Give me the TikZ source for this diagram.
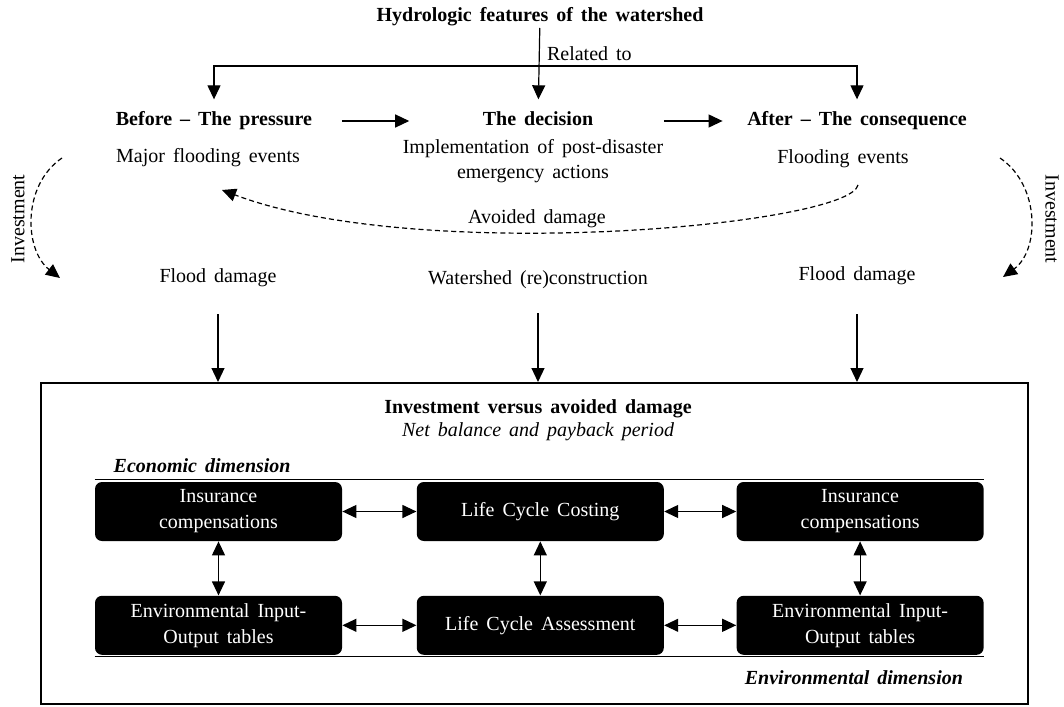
\documentclass[tikz,border=0pt]{standalone}
\usepackage{fontspec}
\setmainfont[WordSpace=1.6]{Liberation Serif}
\usetikzlibrary{arrows.meta,positioning}

\begin{document}
\begin{tikzpicture}[
    x=0.5pt, y=-0.5pt,
    font=\fontsize{10}{12.6}\selectfont,
    >={Triangle[length=7pt,width=6.5pt]},
    head/.style={font=\fontsize{10}{12.6}\selectfont\bfseries, text height=7pt, text depth=2pt, outer sep=3pt},
    txt/.style={align=center},
    dim/.style={font=\fontsize{10}{12.6}\selectfont\bfseries\itshape},
    tool/.style={rectangle, rounded corners=3.5pt, fill=black, text=white, align=center,
        minimum width=123.5pt, minimum height=29.5pt, inner sep=0pt, font=\fontsize{10}{13}\selectfont},
    flow/.style={line width=0.6pt, ->},
    twoway/.style={line width=0.6pt, <->},
    loop/.style={line width=0.6pt, dash pattern=on 2.5pt off 1.6pt, ->}
]
\useasboundingbox (0,0) rectangle (1064,706);

% upper part: before / decision / after
\node[head, outer sep=0pt, inner sep=1pt] (hydro) at (540,17) {Hydrologic features of the watershed};
\node[head] (before) at (214,121) {Before – The pressure};
\node[head] (decision) at (538,121) {The decision};
\node[head] (after) at (857,121) {After – The consequence};
\node[txt] (major) at (208,158) {Major flooding events};
\node[txt] (impl) at (533,161) {Implementation of post-disaster\\emergency actions};
\node[txt] (fev) at (843,159) {Flooding events};
\node[txt] (avoid) at (537,219) {Avoided damage};
\node[txt] (fd1) at (218,278) {Flood damage};
\node[txt] (rec) at (538,280) {Watershed (re)construction};
\node[txt] (fd2) at (857,276) {Flood damage};
\node[txt, rotate=90] (inv1) at (18,219) {Investment};
\node[txt, rotate=-90] (inv2) at (1052,219) {Investment};

\coordinate (rel) at (538,66);
\node[txt, above right=-1pt and 1pt of rel] (relto) {Related to};
\draw[flow] (hydro) -- (decision);
\draw[flow] (rel) -| (before);
\draw[flow] (rel) -| (after);
\draw[flow, shorten <=8.5pt, shorten >=30.5pt] (before) -- (decision);
\draw[flow, shorten <=29pt, shorten >=6pt] (decision) -- (after);

% investment and avoided damage loops
\coordinate (inv1s) at (62,158);
\coordinate (inv1e) at (60,278);
\coordinate (inv2s) at (1000,158);
\coordinate (inv2e) at (1003,277);
\coordinate (avs) at (858,185);
\coordinate (ave) at (222,190);
\draw[loop] (inv1s) .. controls (22,185) and (24,250) .. (inv1e);
\draw[loop] (inv2s) .. controls (1040,185) and (1040,250) .. (inv2e);
\draw[loop] (avs) .. controls (850,225) and (420,265) .. (ave);

% lower part: assessment frame
\node[draw, line width=1pt, minimum width=493.5pt, minimum height=160.5pt, inner sep=0pt] (frame) at (534.5,543.5) {};
\draw[flow, shorten <=10pt] (fd1) -- (fd1 |- frame.north);
\draw[flow, shorten <=8.5pt] (rec) -- (rec |- frame.north);
\draw[flow, shorten <=11pt] (fd2) -- (fd2 |- frame.north);

\node[head, outer sep=0pt] (ivad) at (538,408) {Investment versus avoided damage};
\node[txt, font=\fontsize{10}{12.6}\selectfont\itshape] (net) at (538,432) {Net balance and payback period};

\node[tool] (ic1) at (218.5,511.5) {Insurance\\compensations};
\node[tool, right=37pt of ic1] (lcc) {Life Cycle Costing};
\node[tool, right=36pt of lcc] (ic2) {Insurance\\compensations};
\node[tool, below=27pt of ic1] (eio1) {Environmental Input-\\Output tables};
\node[tool, below=27pt of lcc] (lca) {Life Cycle Assessment};
\node[tool, below=27pt of ic2] (eio2) {Environmental Input-\\Output tables};

\foreach \a/\b in {ic1/lcc, lcc/ic2, eio1/lca, lca/eio2, ic1/eio1, lcc/lca, ic2/eio2}
    \draw[twoway] (\a) -- (\b);

\draw[line width=0.6pt] ([yshift=1pt]ic1.north west) -- ([yshift=1pt]ic2.north east);
\draw[line width=0.6pt] ([yshift=-0.5pt]eio1.south west) -- ([yshift=-0.5pt]eio2.south east);
\node[dim, above right=1pt and 6pt of ic1.north west] (econ) {Economic dimension};
\node[dim, below left=4pt and 7pt of eio2.south east] (env) {Environmental dimension};
\end{tikzpicture}
\end{document}
